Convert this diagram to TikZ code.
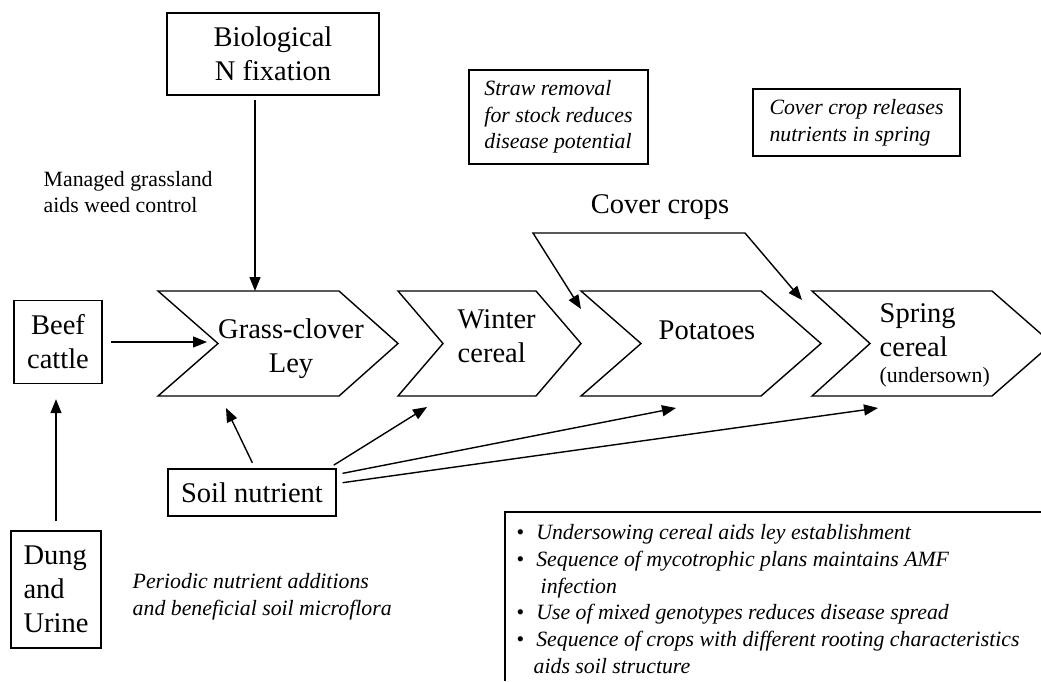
\documentclass[tikz,border=0pt]{standalone}
\usepackage{fontspec}
\setmainfont{Liberation Serif}
\usetikzlibrary{arrows.meta,positioning}

\newcommand{\cropfont}{\fontsize{28.5}{34}\selectfont}
\newcommand{\notefont}{\fontsize{21.8}{26.7}\selectfont}

\begin{document}
\begin{tikzpicture}
	[x=1pt,y=-1pt,line width=1.4pt,>={Triangle[length=14pt,width=11pt]}]
	\tikzstyle{box}=[rectangle, draw, inner sep=0pt, align=center, font=\cropfont];
	\tikzstyle{crop}=[inner sep=0pt, align=center, font=\cropfont];
	\tikzstyle{note}=[inner sep=0pt, align=left, font=\notefont];
	\tikzstyle{flow}=[->, shorten <=6pt];

	\useasboundingbox (0,0) rectangle (1041,681);
	\clip (0,0) rectangle (1041,681);

	% rotation chevrons
	\draw (158,291) -- (339,291) -- (398,343.5) -- (339,396) -- (158,396) -- (218,343.5) -- cycle;
	\draw (398,291) -- (536,291) -- (581,343.5) -- (536,396) -- (398,396) -- (443,343.5) -- cycle;
	\draw (581,291) -- (761,291) -- (821,343.5) -- (761,396) -- (581,396) -- (641,343.5) -- cycle;
	\draw (812,291) -- (992,291) -- (1052,343.5) -- (992,396) -- (812,396) -- (870,343.5) -- cycle;

	\node[crop] (ley) at (291,349) {Grass-clover\\Ley};
	\node[crop, align=left, anchor=west] (winter) at (457,336) {Winter\\cereal};
	\node[crop, anchor=base] (potato) at (707,339) {Potatoes};
	\node[crop, align=left, anchor=base west] (spring) at (879,382)
		{Spring\\cereal\\[-8pt]{\notefont(undersown)}};

	% boxes
	\node[box, minimum width=212pt, minimum height=82pt] (nfix) at (273,54) {Biological\\N fixation};
	\node[box, minimum width=88pt, minimum height=83pt] (beef) at (58,342) {Beef\\cattle};
	\node[box, align=left, minimum width=90pt, minimum height=117pt] (dung) at (56,589.5) {Dung\\and\\Urine};
	\node[box, minimum width=168pt, minimum height=47pt] (soil) at (252,492.5) {Soil nutrient};
	\node[box, font=\notefont\itshape, align=left, minimum width=179pt, minimum height=94pt] (straw)
		at (558.5,117) {Straw removal\\for stock reduces\\disease potential};
	\node[box, font=\notefont\itshape, align=left, minimum width=207pt, minimum height=67pt] (release)
		at (856.5,122.5) {Cover crop releases\\nutrients in spring};

	% free text
	\node[note, anchor=west] (grass) at (43,192) {Managed grassland\\aids weed control};
	\node[note, font=\notefont\itshape, anchor=west] (periodic) at (132,597)
		{Periodic nutrient additions\\and beneficial soil microflora};
	\node[crop, anchor=base] (cover) at (660,213) {Cover crops};

	\draw (505,681) -- (505,512) -- (1041,512);
	\node[note, anchor=north west] (tips) at (516,524)
		{\textbullet\hspace{12pt}\textit{Undersowing cereal aids ley establishment}\\
		 \textbullet\hspace{12pt}\textit{Sequence of mycotrophic plans maintains AMF}\\
		 \hspace{24pt}\textit{infection}\\
		 \textbullet\hspace{12pt}\textit{Use of mixed genotypes reduces disease spread}\\
		 \textbullet\hspace{12pt}\textit{Sequence of crops with different rooting characteristics}\\
		 \hspace{17pt}\textit{aids soil structure}};

	% arrow ends
	\coordinate (leytop) at (255,291);
	\coordinate (leyin) at (207,342);
	\coordinate (leyfoot) at (226,408);
	\coordinate (winterfoot) at (427,407);
	\coordinate (potfoot) at (676,408);
	\coordinate (springfoot) at (878,408);
	\coordinate (ccleft) at (533,233);
	\coordinate (ccright) at (745,233);
	\coordinate (ccpot) at (581,309);
	\coordinate (ccspring) at (802,300);

	\draw[->, shorten <=4pt] (nfix.south -| leytop) -- (leytop);
	\draw[->, shorten <=8pt] (beef.east) -- (leyin);
	\draw[->, shorten <=9pt, shorten >=15pt] (dung.north) -- (dung.north |- beef.south);
	\draw[flow] ([xshift=3pt]soil.north) -- (leyfoot);
	\draw[flow] ([xshift=-8pt]soil.north east) -- (winterfoot);
	\draw[flow] ([yshift=18pt]soil.east) -- (potfoot);
	\draw[flow] ([yshift=9pt]soil.east) -- (springfoot);
	\draw[<->] (ccpot) -- (ccleft) -- (ccright) -- (ccspring);

\end{tikzpicture}
\end{document}
